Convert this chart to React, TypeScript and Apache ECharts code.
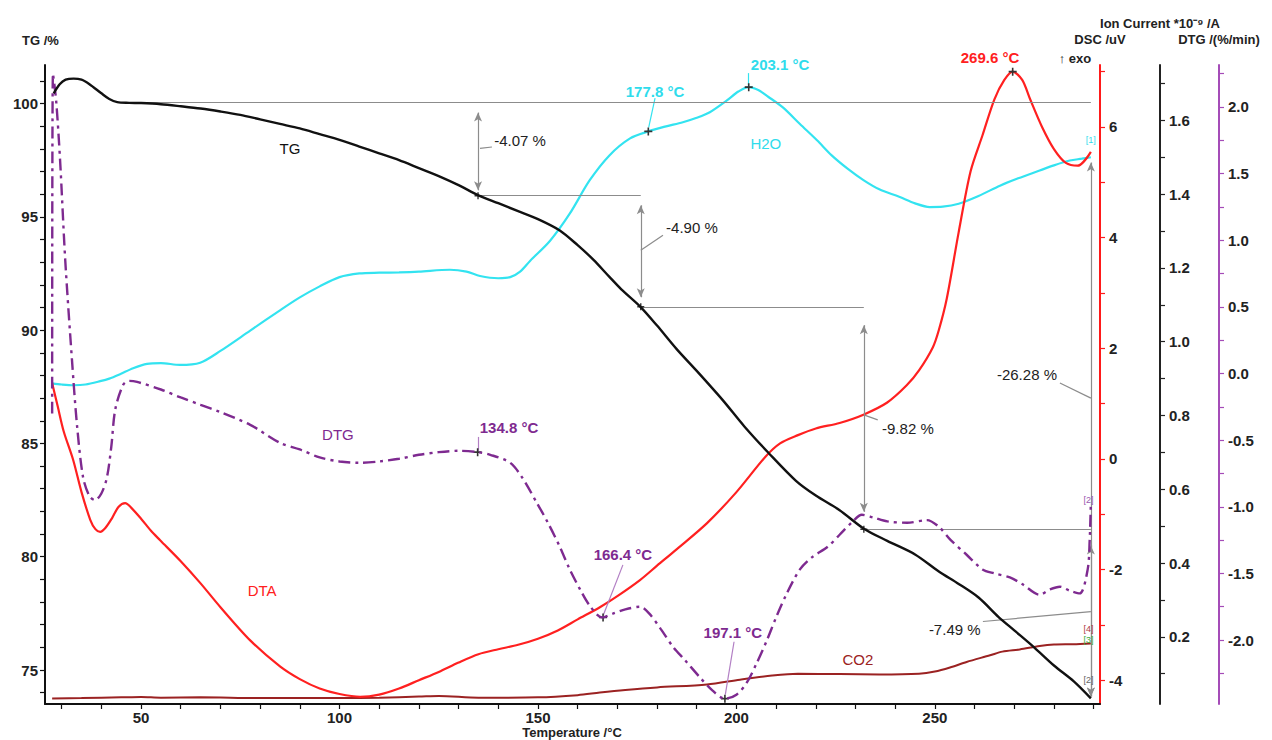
import React, { useEffect, useRef } from "react";
import * as echarts from "echarts";

const FONT = '"Liberation Sans", Arial, Helvetica, sans-serif';

// ---- data: [temperature °C, value] ----
const tgData = [
  [28.0, 100.45], [29.5, 100.85], [31, 101.05], [33, 101.1], [35, 101.05], [37, 100.85], [40, 100.45],
  [42, 100.2], [44, 100.06], [47, 100.03], [50, 100.02], [55, 99.97], [60, 99.88], [65, 99.78],
  [70, 99.65], [75, 99.5], [80, 99.3], [85, 99.1], [90, 98.9], [95, 98.65], [100, 98.4], [105, 98.1],
  [110, 97.8], [115, 97.5], [120, 97.15], [125, 96.8], [130, 96.4], [135, 95.95], [140, 95.6],
  [145, 95.25], [150, 94.9], [155.5, 94.4], [160, 93.75], [164, 93.1], [168, 92.35], [171, 91.8],
  [175.7, 91.05], [180, 90.2], [185, 89.15], [190, 88.2], [196.6, 86.9], [202, 85.75], [208, 84.6],
  [215, 83.35], [220, 82.7], [226, 82.05], [232, 81.25], [238, 80.7], [245, 80.1], [251, 79.35],
  [256, 78.8], [261, 78.2], [266, 77.35], [270, 76.75], [275, 76.0], [280, 75.2], [285, 74.5], [289.3, 73.75],
];

const dscData = [
  [27.6, 1.37], [29, 0.95], [30.5, 0.5], [32.9, -0.02], [35, -0.6], [37.2, -1.1], [38.5, -1.27],
  [39.7, -1.32], [41, -1.25], [42.7, -1.07], [44.3, -0.87], [46, -0.8], [47.5, -0.88], [50, -1.08],
  [52.5, -1.3], [54.8, -1.47], [60, -1.85], [65, -2.25], [70, -2.68], [77.5, -3.28], [85, -3.75],
  [90, -3.98], [95, -4.15], [100, -4.25], [105.2, -4.3], [110, -4.26], [115, -4.15], [120, -4.0],
  [125, -3.85], [130, -3.68], [135, -3.53], [140, -3.44], [145, -3.36], [150, -3.25], [155, -3.1],
  [160, -2.9], [165.6, -2.68], [170, -2.48], [175.7, -2.19], [180, -1.93], [185, -1.63], [192.6, -1.16],
  [200, -0.6], [207.2, 0.03], [211, 0.28], [215.5, 0.43], [220, 0.55], [226, 0.65], [232, 0.8],
  [238, 1.02], [242.9, 1.33], [246, 1.6], [249.5, 2.02], [251, 2.33], [253, 2.9], [256, 4.1],
  [259, 5.2], [262, 5.85], [265, 6.5], [267.5, 6.85], [269.6, 7.0], [272, 6.85], [274, 6.5],
  [277, 6.0], [280, 5.6], [283, 5.35], [286, 5.3], [289.3, 5.55],
];

const h2oData = [
  [27.6, 0.887], [30, 0.884], [33, 0.882], [36, 0.884], [39.7, 0.893], [42, 0.9], [44.7, 0.912],
  [48, 0.928], [51.5, 0.94], [55, 0.942], [59.8, 0.937], [64.9, 0.943], [70, 0.975], [77.5, 1.03],
  [85, 1.085], [90, 1.12], [95, 1.15], [100, 1.175], [105, 1.185], [110, 1.187], [115, 1.188],
  [120, 1.19], [127.8, 1.195], [132, 1.19], [135.4, 1.178], [140, 1.172], [143, 1.175], [145.5, 1.19],
  [148, 1.219], [153, 1.273], [158, 1.347], [163, 1.437], [168, 1.505], [173.2, 1.551], [177.8, 1.57],
  [182, 1.583], [186.5, 1.595], [190, 1.607], [193.3, 1.622], [197.6, 1.654], [200.5, 1.678],
  [203.1, 1.69], [205.5, 1.682], [208, 1.664], [211.7, 1.635], [216, 1.59], [220.3, 1.546],
  [224, 1.505], [228, 1.469], [232, 1.438], [236, 1.413], [241, 1.393], [245, 1.375], [248.7, 1.365],
  [252, 1.366], [256, 1.374], [261, 1.395], [266.4, 1.423], [271, 1.443], [276.4, 1.464], [280, 1.478],
  [284, 1.491], [287, 1.496], [289.3, 1.5],
];

const co2Data = [
  [27.6, 0.033], [35, 0.034], [45, 0.036], [50, 0.037], [55, 0.035], [65, 0.036], [80, 0.034],
  [100, 0.034], [110, 0.035], [120, 0.038], [125, 0.04], [135, 0.035], [150, 0.036], [160, 0.042],
  [165.6, 0.049], [172, 0.056], [180, 0.063], [192.6, 0.071], [200.9, 0.084], [209, 0.095],
  [215.5, 0.1], [226, 0.099], [236, 0.098], [246, 0.1], [250, 0.106], [253.8, 0.117], [258, 0.132],
  [263.9, 0.15], [267, 0.16], [271.4, 0.166], [276.4, 0.175], [280, 0.179], [284.8, 0.18], [289.3, 0.182],
];

const dtgData = [
  [27.6, -0.3], [27.8, 2.25], [28.6, 2.05], [29.6, 1.6], [30.9, 0.85], [32.6, 0.1], [33.9, -0.4],
  [35.4, -0.78], [37, -0.92], [38.4, -0.95], [40, -0.9], [41.4, -0.78], [42.5, -0.55], [43.5, -0.27],
  [45.5, -0.085], [47, -0.055], [49, -0.063], [55, -0.12], [60, -0.18], [65, -0.235], [70, -0.29],
  [77.5, -0.385], [85, -0.52], [90, -0.57], [95, -0.63], [100, -0.66], [105, -0.67], [110, -0.66],
  [115, -0.64], [120, -0.61], [125, -0.59], [130, -0.58], [134.8, -0.59], [138, -0.61], [143, -0.67],
  [146, -0.78], [149.7, -0.97], [152.5, -1.12], [155.5, -1.3], [158, -1.47], [160.6, -1.62],
  [163, -1.74], [166.1, -1.83], [169, -1.8], [172, -1.77], [175.7, -1.75], [178, -1.8], [181, -1.92],
  [184, -2.05], [187, -2.15], [190.8, -2.28], [194, -2.38], [197.1, -2.44], [200, -2.41],
  [202.6, -2.32], [205, -2.18], [207.7, -2.0], [210, -1.83], [212.7, -1.65], [216, -1.47],
  [219, -1.38], [223, -1.3], [226, -1.21], [229, -1.12], [231.6, -1.06], [234.4, -1.08], [238, -1.11],
  [243, -1.12], [248, -1.1], [251, -1.15], [254, -1.25], [258, -1.36], [262, -1.47], [265, -1.5],
  [268.9, -1.53], [272, -1.58], [276.4, -1.66], [279, -1.62], [281.5, -1.6], [284, -1.63],
  [286.5, -1.65], [288.5, -1.47], [289, -1.25], [289.3, -0.97],
];

// ---- axis ticks / labels ----
const xTicks = [30, 40, 50, 60, 70, 80, 90, 100, 110, 120, 130, 140, 150, 160, 170, 180, 190, 200, 210, 220, 230, 240, 250, 260, 270, 280, 290];
const xLabels = [50, 100, 150, 200, 250];
const tgTicks = [74, 75, 76, 77, 78, 79, 80, 81, 82, 83, 84, 85, 86, 87, 88, 89, 90, 91, 92, 93, 94, 95, 96, 97, 98, 99, 100, 101];
const tgLabels = [75, 80, 85, 90, 95, 100];
const dscTicks = [-4, -3, -2, -1, 0, 1, 2, 3, 4, 5, 6, 7];
const dscLabels = [-4, -2, 0, 2, 4, 6];
const ionTicks = [0.1, 0.2, 0.3, 0.4, 0.5, 0.6, 0.7, 0.8, 0.9, 1.0, 1.1, 1.2, 1.3, 1.4, 1.5, 1.6, 1.7];
const ionLabels = [0.2, 0.4, 0.6, 0.8, 1.0, 1.2, 1.4, 1.6];
const dtgTicks = [-2.25, -2, -1.75, -1.5, -1.25, -1, -0.75, -0.5, -0.25, 0, 0.25, 0.5, 0.75, 1, 1.25, 1.5, 1.75, 2, 2.25];
const dtgLabels = [-2, -1.5, -1, -0.5, 0, 0.5, 1, 1.5, 2];

// ---- TG step annotations ----
const tgLevels = [
  { v: 100.05, from: 44, to: 289.3 },
  { v: 95.93, from: 134.9, to: 175.9 },
  { v: 91.03, from: 175.9, to: 232.1 },
  { v: 81.21, from: 232.1, to: 289.3 },
];
const tgArrows = [
  { T: 134.9, top: 99.6, bottom: 96.17 },
  { T: 175.9, top: 95.51, bottom: 91.45 },
  { T: 232.1, top: 90.22, bottom: 81.98 },
  { T: 289.3, top: 97.4, bottom: 73.83 },
  { T: 289.3, top: 80.5, bottom: 73.83 },
];
const tgLeaders = [
  [[135.4, 98.02], [138.4, 98.08]],
  [[175.9, 93.52], [181.5, 94.19]],
  [[232.1, 86.26], [235.6, 86.04]],
  [[281.5, 87.67], [289.3, 87.0]],
  [[262.1, 77.14], [289.3, 77.58]],
];
const tgSteps = [
  { text: "-4.07 %", T: 145.5, v: 98.37 },
  { text: "-4.90 %", T: 188.8, v: 94.54 },
  { text: "-9.82 %", T: 243.2, v: 85.68 },
  { text: "-26.28 %", T: 273.2, v: 88.02 },
  { text: "-7.49 %", T: 255, v: 76.78 },
];

// ---- peak annotations: marker point, leader, label (axis: 0 TG, 1 DSC, 2 ion, 3 DTG) ----
const peaks = [
  { text: "177.8 °C", axis: 2, color: "#2fdcec", mark: [177.8, 1.57], lead: [[179.5, 1.66], [177.9, 1.581]], label: [179.5, 1.679] },
  { text: "203.1 °C", axis: 2, color: "#2fdcec", mark: [203.1, 1.69], lead: [[203.1, 1.728], [203.1, 1.696]], label: [211, 1.752] },
  { text: "269.6 °C", axis: 1, color: "#ff2020", mark: [269.6, 7.0], lead: null, label: [263.9, 7.25] },
  { text: "134.8 °C", axis: 3, color: "#7e2a90", mark: [134.8, -0.59], lead: [[134.9, -0.476], [134.9, -0.58]], label: [142.7, -0.408] },
  { text: "166.4 °C", axis: 3, color: "#7e2a90", mark: [166.4, -1.83], lead: [[171.4, -1.436], [166.5, -1.81]], label: [171.4, -1.361] },
  { text: "197.1 °C", axis: 3, color: "#7e2a90", mark: [197.1, -2.44], lead: [[199.4, -2.013], [197.2, -2.41]], label: [199.1, -1.946] },
];

const curveNames = [
  { text: "TG", axis: 0, color: "#111", T: 87.5, v: 98.02 },
  { text: "H2O", axis: 2, color: "#2fdcec", T: 207.4, v: 1.537 },
  { text: "DTG", axis: 3, color: "#7e2a90", T: 99.6, v: -0.46 },
  { text: "DTA", axis: 1, color: "#ff2020", T: 80.5, v: -2.37 },
  { text: "CO2", axis: 2, color: "#9b2222", T: 230.6, v: 0.139 },
];

const endTags = [
  { text: "[1]", axis: 2, color: "#2fdcec", T: 289.3, v: 1.546 },
  { text: "[2]", axis: 3, color: "#9a5ab0", T: 288.7, v: -0.948 },
  { text: "[4]", axis: 2, color: "#b04040", T: 288.7, v: 0.22 },
  { text: "[3]", axis: 0, color: "#3aaa3a", T: 288.7, v: 76.34 },
  { text: "[2]", axis: 0, color: "#666", T: 288.7, v: 74.58 },
];

const PLUS = "path://M4,0H6V4H10V6H6V10H4V6H0V4H4Z";

function yAx(opts: any) {
  return {
    type: "value",
    min: opts.min,
    max: opts.max,
    position: opts.position,
    offset: opts.offset || 0,
    axisLine: { show: true, onZero: false, lineStyle: { color: opts.color, width: 2 } },
    axisTick: { show: true, length: 5, customValues: opts.ticks, lineStyle: { color: opts.color, width: 1.2 } },
    axisLabel: {
      show: true,
      customValues: opts.labels,
      margin: opts.margin,
      color: "#222",
      fontSize: 15,
      fontWeight: "bold",
      fontFamily: FONT,
      formatter: opts.fmt,
    },
    splitLine: { show: false },
  };
}

function markPts(axis: number) {
  return peaks
    .filter((p) => p.axis === axis)
    .map((p) => ({ coord: p.mark }));
}

function leaders(axis: number) {
  return peaks
    .filter((p) => p.axis === axis && p.lead)
    .map((p) => [{ coord: p.lead![0] }, { coord: p.lead![1] }]);
}

export default function App() {
  const ref = useRef<HTMLDivElement>(null);

  useEffect(() => {
    if (!ref.current) return;
    const chart = echarts.init(ref.current, null, { renderer: "svg" });

    const markPointBase = {
      symbol: PLUS,
      symbolSize: 8,
      silent: true,
      itemStyle: { color: "#333" },
      label: { show: false },
    };
    const markLineBase = (color: string) => ({
      silent: true,
      symbol: ["none", "none"],
      label: { show: false },
      lineStyle: { color, width: 1.2, type: "solid" },
      emphasis: { disabled: true },
    });

    const tgLines: any[] = [];
    tgLevels.forEach((l) => tgLines.push([{ coord: [l.from, l.v] }, { coord: [l.to, l.v] }]));
    tgArrows.forEach((a) =>
      tgLines.push([
        { coord: [a.T, a.top], symbol: "arrow", symbolSize: [6, 9] },
        { coord: [a.T, a.bottom], symbol: "arrow", symbolSize: [6, 9] },
      ])
    );
    tgLeaders.forEach((s) => tgLines.push([{ coord: s[0] }, { coord: s[1] }]));

    const option: any = {
      animation: false,
      backgroundColor: "#ffffff",
      grid: { left: 45, right: 172, top: 65, bottom: 36, outerBoundsMode: "none" },
      xAxis: {
        type: "value",
        min: 25.8,
        max: 291.6,
        axisLine: { show: true, onZero: false, lineStyle: { color: "#111", width: 2 } },
        axisTick: { show: true, length: 5, customValues: xTicks, lineStyle: { color: "#111", width: 1.2 } },
        axisLabel: { customValues: xLabels, margin: 6, color: "#222", fontSize: 15, fontWeight: "bold", fontFamily: FONT },
        splitLine: { show: false },
      },
      yAxis: [
        yAx({ min: 73.5, max: 101.7, position: "left", color: "#111", ticks: tgTicks, labels: tgLabels, margin: 7, fmt: (v: number) => String(Math.round(v)) }),
        yAx({ min: -4.43, max: 7.12, position: "right", color: "#ff1a1a", ticks: dscTicks, labels: dscLabels, margin: 9, fmt: (v: number) => String(Math.round(v)) }),
        yAx({ min: 0.018, max: 1.75, position: "right", offset: 60, color: "#222", ticks: ionTicks, labels: ionLabels, margin: 9, fmt: (v: number) => v.toFixed(1) }),
        yAx({ min: -2.48, max: 2.315, position: "right", offset: 119, color: "#a54cb8", ticks: dtgTicks, labels: dtgLabels, margin: 9, fmt: (v: number) => v.toFixed(1) }),
      ],
      series: [
        {
          name: "CO2", type: "line", yAxisIndex: 2, data: co2Data, showSymbol: false, smooth: 0.3,
          lineStyle: { color: "#9b2222", width: 2 }, z: 2,
        },
        {
          name: "H2O", type: "line", yAxisIndex: 2, data: h2oData, showSymbol: false, smooth: 0.3,
          lineStyle: { color: "#33e3f0", width: 2.2 }, z: 3,
          markPoint: { ...markPointBase, data: markPts(2) },
          markLine: { ...markLineBase("#33e3f0"), data: leaders(2) },
        },
        {
          name: "DSC", type: "line", yAxisIndex: 1, data: dscData, showSymbol: false, smooth: 0.3,
          lineStyle: { color: "#ff2020", width: 2.2 }, z: 4,
          markPoint: { ...markPointBase, data: markPts(1) },
        },
        {
          name: "DTG", type: "line", yAxisIndex: 3, data: dtgData, showSymbol: false, smooth: 0.3,
          lineStyle: { color: "#7e2a90", width: 2.4, type: [12, 5, 3, 5] }, z: 5,
          markPoint: { ...markPointBase, data: markPts(3) },
          markLine: { ...markLineBase("#b27fc4"), data: leaders(3) },
        },
        {
          name: "TG", type: "line", yAxisIndex: 0, data: tgData, showSymbol: false, smooth: 0.3,
          lineStyle: { color: "#111", width: 2.4 }, z: 6,
          markLine: { ...markLineBase("#8c8c8c"), data: tgLines },
          markPoint: {
            ...markPointBase,
            symbolSize: 7,
            data: [{ coord: [134.9, 95.93] }, { coord: [175.9, 91.03] }, { coord: [232.1, 81.21] }],
          },
        },
      ],
    };

    chart.setOption(option);

    const px = (axis: number, T: number, v: number) =>
      chart.convertToPixel({ xAxisIndex: 0, yAxisIndex: axis } as any, [T, v]) as number[];

    const txt = (x: number, y: number, text: string, color: string, size: number, weight = "normal", align = "center") => ({
      type: "text",
      silent: true,
      z: 100,
      style: {
        x, y, text,
        fill: color,
        font: `${weight} ${size}px ${FONT}`,
        align, verticalAlign: "middle",
        textAlign: align, textVerticalAlign: "middle",
      },
    });

    const graphics: any[] = [];
    tgSteps.forEach((s) => {
      const p = px(0, s.T, s.v);
      graphics.push(txt(p[0], p[1], s.text, "#222", 15));
    });
    peaks.forEach((p) => {
      const q = px(p.axis, p.label[0], p.label[1]);
      graphics.push(txt(q[0], q[1], p.text, p.color, 15, "bold"));
    });
    curveNames.forEach((c) => {
      const q = px(c.axis, c.T, c.v);
      graphics.push(txt(q[0], q[1], c.text, c.color, 15, "normal"));
    });
    endTags.forEach((c) => {
      const q = px(c.axis, c.T, c.v);
      graphics.push(txt(q[0], q[1], c.text, c.color, 9));
    });
    // axis titles
    graphics.push(txt(572, 732, "Temperature /°C", "#222", 13, "bold"));
    graphics.push(txt(22, 40, "TG /%", "#222", 13, "bold", "left"));
    graphics.push(txt(1160, 23, "Ion Current *10⁻⁹ /A", "#222", 13, "bold"));
    graphics.push(txt(1100, 39, "DSC /uV", "#222", 13, "bold"));
    graphics.push(txt(1219, 39, "DTG /(%/min)", "#222", 13, "bold"));
    graphics.push(txt(1075, 58, "↑ exo", "#222", 13, "bold"));

    chart.setOption({ graphic: graphics });

    return () => chart.dispose();
  }, []);

  return (
    <div
      ref={ref}
      style={{ position: "fixed", left: 0, top: 0, width: 1272, height: 740, background: "#fff" }}
    />
  );
}
